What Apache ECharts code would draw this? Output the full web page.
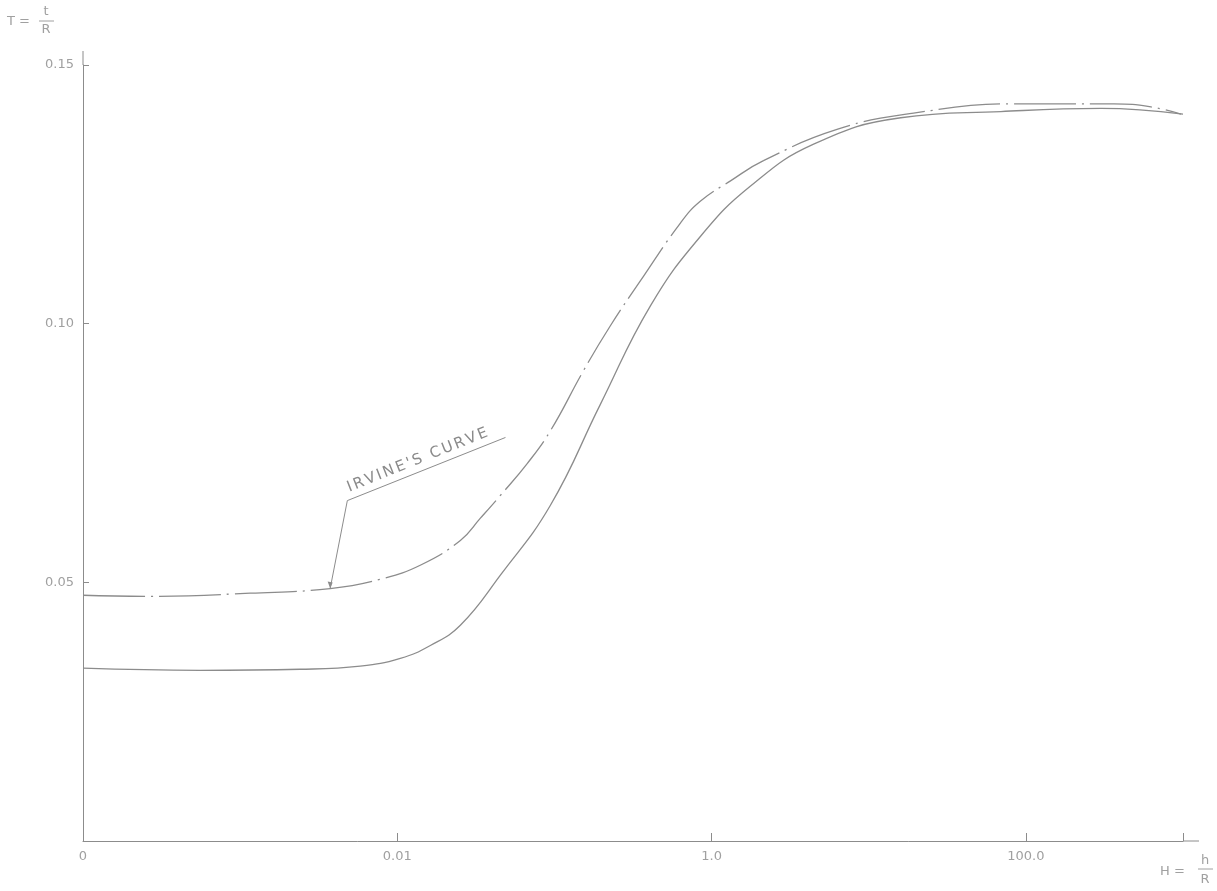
<!DOCTYPE html>
<html><head><meta charset="utf-8">
<script src="https://cdn.jsdelivr.net/npm/echarts@6/dist/echarts.min.js"></script>
<style>html,body{margin:0;padding:0;background:#fff}#c{width:1217px;height:891px}</style>
</head><body><div id="c"></div>
<script>
// Irvine's curve (dash-dot)
const hIrvine = [0.0001, 0.000267, 0.00116, 0.00374, 0.00779, 0.0140, 0.0252, 0.0338, 0.0453, 0.0673, 0.0943, 0.153, 0.227, 0.353, 0.635, 0.851, 1.32, 2.14, 6.35, 19.3, 83.9, 363, 625, 971];
const tIrvine = [0.0475, 0.0473, 0.0479, 0.0488, 0.0506, 0.0533, 0.0581, 0.0624, 0.0668, 0.0730, 0.0793, 0.0909, 0.0996, 0.1083, 0.1195, 0.1237, 0.1276, 0.1315, 0.1376, 0.1407, 0.1425, 0.1425, 0.1419, 0.1405];
// Solid curve
const hSolid = [0.0001, 0.000556, 0.00241, 0.00581, 0.01045, 0.01623, 0.0252, 0.0453, 0.0943, 0.196, 0.409, 0.851, 1.77, 4.46, 16.0, 69.3, 300, 1000];
const tSolid = [0.0334, 0.0330, 0.0332, 0.0338, 0.0353, 0.0378, 0.0417, 0.0514, 0.0649, 0.0844, 0.1035, 0.1169, 0.1266, 0.1347, 0.1398, 0.1410, 0.1416, 0.1405];
// Axis ticks
const xTickValues = [0.0001, 0.01, 1, 100];
const xTickLabels = ['0', '0.01', '1.0', '100.0'];
const yTickValues = [0.05, 0.10, 0.15];
const yTickLabels = ['0.05', '0.10', '0.15'];
// Annotation (data coordinates): arrow tip on curve, elbow, underline end
const annotTip = [0.00374, 0.0488];
const annotElbow = [0.00481, 0.0658];
const annotEnd = [0.0488, 0.0780];
const annotText = "IRVINE'S CURVE";

const INK = '#8c8c8c';
const TXT = '#a0a0a0';
const FONT = '"DejaVu Sans", "Liberation Sans", sans-serif';

const chart = echarts.init(document.getElementById('c'), null, {renderer: 'canvas'});

function zip(a, b) { return a.map((v, i) => [v, b[i]]); }

chart.setOption({
  animation: false,
  backgroundColor: '#fff',
  grid: {left: 83, right: 34, top: 65, bottom: 50, containLabel: false},
  xAxis: {
    type: 'log', logBase: 10, min: 0.0001, max: 1000, interval: 2,
    axisLine: {lineStyle: {color: INK, width: 1}},
    axisTick: {inside: true, length: 8, lineStyle: {color: INK}},
    splitLine: {show: false},
    minorTick: {show: false},
    axisLabel: {
      color: TXT, fontSize: 13, fontFamily: FONT, margin: 9,
      showMinLabel: true, showMaxLabel: true,
      formatter: function (v) {
        for (let i = 0; i < xTickValues.length; i++) {
          if (Math.abs(Math.log10(v) - Math.log10(xTickValues[i])) < 1e-6) return xTickLabels[i];
        }
        return '';
      }
    }
  },
  yAxis: {
    type: 'value', min: 0, max: 0.15, interval: 0.05,
    axisLine: {show: true, lineStyle: {color: INK, width: 1}},
    axisTick: {show: true, inside: true, length: 6, lineStyle: {color: INK}},
    splitLine: {show: false},
    axisLabel: {
      color: TXT, fontSize: 13, fontFamily: FONT, margin: 9,
      formatter: function (v) {
        for (let i = 0; i < yTickValues.length; i++) {
          if (Math.abs(v - yTickValues[i]) < 1e-9) return yTickLabels[i];
        }
        return '';
      }
    }
  },
  series: [
    {
      name: 'Irvine', type: 'line', smooth: 0.45, showSymbol: false, symbol: 'none',
      data: zip(hIrvine, tIrvine),
      lineStyle: {color: INK, width: 1.3, type: [62, 6, 2, 6]}
    },
    {
      name: 'Solid', type: 'line', smooth: 0.45, showSymbol: false, symbol: 'none',
      data: zip(hSolid, tSolid),
      lineStyle: {color: INK, width: 1.3, type: 'solid'}
    }
  ]
});

function px(p) { return chart.convertToPixel({gridIndex: 0}, p); }
const tip = px(annotTip), elbow = px(annotElbow), end = px(annotEnd);
const ang = Math.atan2(-(end[1] - elbow[1]), end[0] - elbow[0]);
const dir = [Math.cos(ang), -Math.sin(ang)];
const nrm = [-Math.sin(ang), -Math.cos(ang)];
const xEnd = px([1000, 0]);
const yTop = px([0.0001, 0.15]);

// letter-spaced annotation text along the underline
const annotFont = '15px ' + FONT;
const mctx = document.createElement('canvas').getContext('2d');
mctx.font = annotFont;
const chars = annotText.split('');
const widths = chars.map(c => mctx.measureText(c).width);
const natural = widths.reduce((a, b) => a + b, 0);
const targetLen = 150;
const spacing = Math.max(0, (targetLen - natural) / (chars.length - 1));
const charEls = [];
let cum = 5;
chars.forEach((c, i) => {
  const bx = elbow[0] + dir[0] * cum + nrm[0] * 4;
  const by = elbow[1] + dir[1] * cum + nrm[1] * 4;
  charEls.push({type: 'text', x: bx, y: by, rotation: ang, silent: true,
    style: {text: c, fill: '#8a8a8a', font: annotFont, textAlign: 'left', textVerticalAlign: 'bottom'}});
  cum += widths[i] + spacing;
});

chart.setOption({
  graphic: [
    {type: 'line', shape: {x1: xEnd[0], y1: xEnd[1], x2: xEnd[0] + 16, y2: xEnd[1]}, style: {stroke: INK, lineWidth: 1}, silent: true},
    {type: 'line', shape: {x1: yTop[0], y1: yTop[1], x2: yTop[0], y2: yTop[1] - 14}, style: {stroke: INK, lineWidth: 1}, silent: true},
    {type: 'polyline', shape: {points: [tip, elbow, end]}, style: {stroke: INK, lineWidth: 1, fill: null}, silent: true},
    {type: 'polygon', shape: {points: [[tip[0], tip[1]], [tip[0] - 2.5, tip[1] - 7], [tip[0] + 2.5, tip[1] - 6]]}, style: {fill: INK}, silent: true},
    ...charEls,
    {type: 'text', x: 7, y: 22, style: {text: 'T =', fill: TXT, font: '13px ' + FONT, textVerticalAlign: 'middle'}},
    {type: 'text', x: 46, y: 12, style: {text: 't', fill: TXT, font: '13px ' + FONT, textAlign: 'center', textVerticalAlign: 'middle'}},
    {type: 'line', shape: {x1: 39, y1: 21, x2: 54, y2: 21}, style: {stroke: TXT, lineWidth: 1}},
    {type: 'text', x: 46, y: 30, style: {text: 'R', fill: TXT, font: '13px ' + FONT, textAlign: 'center', textVerticalAlign: 'middle'}},
    {type: 'text', x: 1160, y: 872, style: {text: 'H =', fill: TXT, font: '13px ' + FONT, textVerticalAlign: 'middle'}},
    {type: 'text', x: 1205, y: 861, style: {text: 'h', fill: TXT, font: '13px ' + FONT, textAlign: 'center', textVerticalAlign: 'middle'}},
    {type: 'line', shape: {x1: 1198, y1: 869, x2: 1213, y2: 869}, style: {stroke: TXT, lineWidth: 1}},
    {type: 'text', x: 1205, y: 880, style: {text: 'R', fill: TXT, font: '13px ' + FONT, textAlign: 'center', textVerticalAlign: 'middle'}}
  ]
});
</script>
</body></html>
